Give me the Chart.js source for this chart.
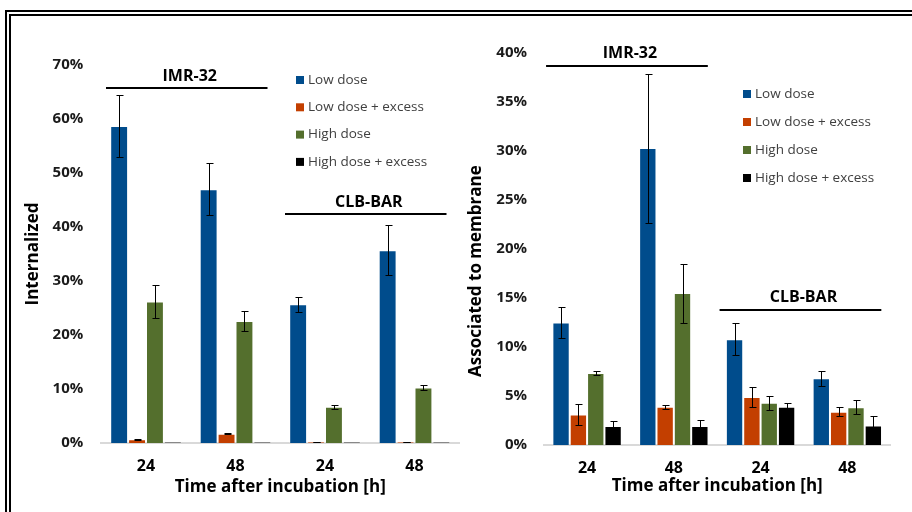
<!DOCTYPE html>
<html>
<head>
<meta charset="utf-8">
<script src="https://cdn.jsdelivr.net/npm/chart.js@4"></script>
<style>
body { margin: 0; background: #fff; overflow: hidden; width: 912px; height: 512px; position: relative; }
#frame { position: absolute; left: 5px; top: 10px; width: 1000px; height: 600px; box-sizing: border-box;
         border-top: 6px double #000; border-left: 6px double #000; }
.box { position: absolute; top: 0; height: 512px; }
</style>
</head>
<body>
<div id="frame"></div>
<div class="box" style="left:0;width:462px"><canvas id="c1" width="462" height="512"></canvas></div>
<div class="box" style="left:460px;width:452px"><canvas id="c2" width="452" height="512"></canvas></div>
<script>
// categories / series
const categories = ['24', '48', '24', '48'];
const seriesNames = ['Low dose', 'Low dose + excess', 'High dose', 'High dose + excess'];
const seriesColors = ['#004C8C', '#C33F00', '#546F2D', '#000000'];
const groupNames = ['IMR-32', 'CLB-BAR'];
const groupRanges = [[0, 1], [2, 3]];

// Internalized (%)
const intLow = [58.7, 47.0, 25.7, 35.7];
const intLowErr = [5.8, 4.8, 1.4, 4.6];
const intLowEx = [0.7, 1.7, 0.2, 0.2];
const intLowExErr = [0.1, 0.1, 0.05, 0.05];
const intHigh = [26.2, 22.6, 6.7, 10.3];
const intHighErr = [3.0, 1.9, 0.4, 0.5];
const intHighEx = [0.15, 0.15, 0.15, 0.15];
const intHighExErr = [0, 0, 0, 0];
const intGroupLevels = [65.7, 42.4];

// Associated to membrane (%)
const memLow = [12.5, 30.3, 10.8, 6.8];
const memLowErr = [1.6, 7.6, 1.6, 0.8];
const memLowEx = [3.1, 3.9, 4.9, 3.4];
const memLowExErr = [1.1, 0.2, 1.0, 0.45];
const memHigh = [7.35, 15.5, 4.3, 3.85];
const memHighErr = [0.2, 3.0, 0.7, 0.7];
const memHighEx = [1.95, 1.95, 3.9, 2.0];
const memHighExErr = [0.5, 0.6, 0.4, 1.0];
const memGroupLevels = [38.7, 13.8];

const FONT = '"Open Sans", "DejaVu Sans", sans-serif';

const errorBars = {
  id: 'errorBars',
  afterDatasetsDraw(chart) {
    const ctx = chart.ctx, y = chart.scales.y;
    ctx.save();
    ctx.strokeStyle = '#000';
    ctx.lineWidth = 1;
    chart.data.datasets.forEach((ds, i) => {
      chart.getDatasetMeta(i).data.forEach((bar, j) => {
        const e = ds.errors[j];
        if (!e) return;
        const v = ds.data[j];
        const x = Math.round(bar.x) + 0.5;
        const t = Math.round(y.getPixelForValue(v + e)) + 0.5;
        const b = Math.round(y.getPixelForValue(v - e)) + 0.5;
        ctx.beginPath();
        ctx.moveTo(x, t); ctx.lineTo(x, b);
        ctx.moveTo(x - 3, t); ctx.lineTo(x + 4, t);
        ctx.moveTo(x - 3, b); ctx.lineTo(x + 4, b);
        ctx.stroke();
      });
    });
    ctx.restore();
  }
};

const groups = {
  id: 'groups',
  afterDraw(chart, args, opts) {
    const ctx = chart.ctx, x = chart.scales.x, y = chart.scales.y;
    ctx.save();
    groupNames.forEach((name, i) => {
      const x0 = x.getPixelForValue(groupRanges[i][0]) - opts.left;
      const x1 = x.getPixelForValue(groupRanges[i][1]) + opts.right;
      const yy = Math.round(y.getPixelForValue(opts.levels[i]));
      ctx.fillStyle = '#000';
      ctx.fillRect(x0, yy - 1, x1 - x0, 2);
      ctx.font = 'bold 16px ' + FONT;
      ctx.textAlign = 'center';
      ctx.textBaseline = 'middle';
      ctx.fillText(name, (x0 + x1) / 2 + 3, yy - opts.gap);
    });
    ctx.restore();
  }
};

const legendBox = {
  id: 'legendBox',
  afterDraw(chart, args, opts) {
    const ctx = chart.ctx;
    ctx.save();
    ctx.font = '13.5px ' + FONT;
    ctx.textBaseline = 'middle';
    ctx.textAlign = 'left';
    chart.data.datasets.forEach((ds, i) => {
      const cy = opts.y + i * opts.step;
      ctx.fillStyle = ds.backgroundColor;
      ctx.fillRect(opts.x, cy - 4, 8, 8);
      ctx.fillStyle = '#404040';
      ctx.fillText(ds.label, opts.x + 12, cy);
    });
    ctx.restore();
  }
};

function makeChart(id, series, errs, cfg) {
  const datasets = series.map((d, i) => ({
    label: seriesNames[i],
    data: d,
    errors: errs[i],
    backgroundColor: seriesColors[i],
    borderColor: 'rgba(255,255,255,0.25)',
    borderWidth: 1,
    barPercentage: 1,
    categoryPercentage: 0.8
  }));
  return new Chart(document.getElementById(id), {
    type: 'bar',
    data: { labels: categories, datasets },
    plugins: [errorBars, groups, legendBox],
    options: {
      responsive: false,
      animation: false,
      layout: { padding: { top: cfg.top, left: 0, right: cfg.right, bottom: 0 } },
      plugins: {
        legend: { display: false },
        tooltip: { enabled: false },
        groups: cfg.groups,
        legendBox: cfg.legend
      },
      scales: {
        x: {
          grid: { display: false, drawTicks: false },
          border: { color: '#D9D9D9', width: 2 },
          ticks: { color: '#000', padding: 14, font: { family: FONT, size: 16, weight: 'bold' } },
          title: { display: true, text: 'Time after incubation [h]', color: '#000',
                   font: { family: FONT, size: 17, weight: 'bold' }, padding: { top: 0, bottom: cfg.xTitlePad } },
          afterFit: s => { s.height = cfg.xHeight; }
        },
        y: {
          min: 0, max: cfg.max,
          grid: { display: false, drawTicks: false },
          border: { display: false },
          ticks: { stepSize: cfg.step, color: '#1a1a1a', padding: cfg.tickPad,
                   font: { family: FONT, size: 15, weight: 'bold' }, callback: v => v + '%' },
          title: { display: true, text: cfg.yTitle, color: '#000',
                   font: { family: FONT, size: 17, weight: 'bold' }, padding: { top: cfg.yTitlePad, bottom: 0 } },
          afterFit: s => { s.width = cfg.yWidth; }
        }
      }
    }
  });
}

makeChart('c1', [intLow, intLowEx, intHigh, intHighEx], [intLowErr, intLowExErr, intHighErr, intHighExErr], {
  top: 65, right: 2.75, max: 70, step: 10, yWidth: 101.25, xHeight: 69, xTitlePad: 14.8,
  tickPad: 18, yTitlePad: 22.8, yTitle: 'Internalized',
  groups: { levels: intGroupLevels, left: 40, right: 32, gap: 12 },
  legend: { x: 296, y: 80, step: 27.3 }
});

makeChart('c2', [memLow, memLowEx, memHigh, memHighEx], [memLowErr, memLowExErr, memHighErr, memHighExErr], {
  top: 53, right: 21.3, max: 40, step: 5, yWidth: 83.7, xHeight: 67, xTitlePad: 15.8,
  tickPad: 16.7, yTitlePad: 5.8, yTitle: 'Associated to membrane          ',
  groups: { levels: memGroupLevels, left: 41, right: 34, gap: 13 },
  legend: { x: 283, y: 94, step: 28 }
});
</script>
</body>
</html>
